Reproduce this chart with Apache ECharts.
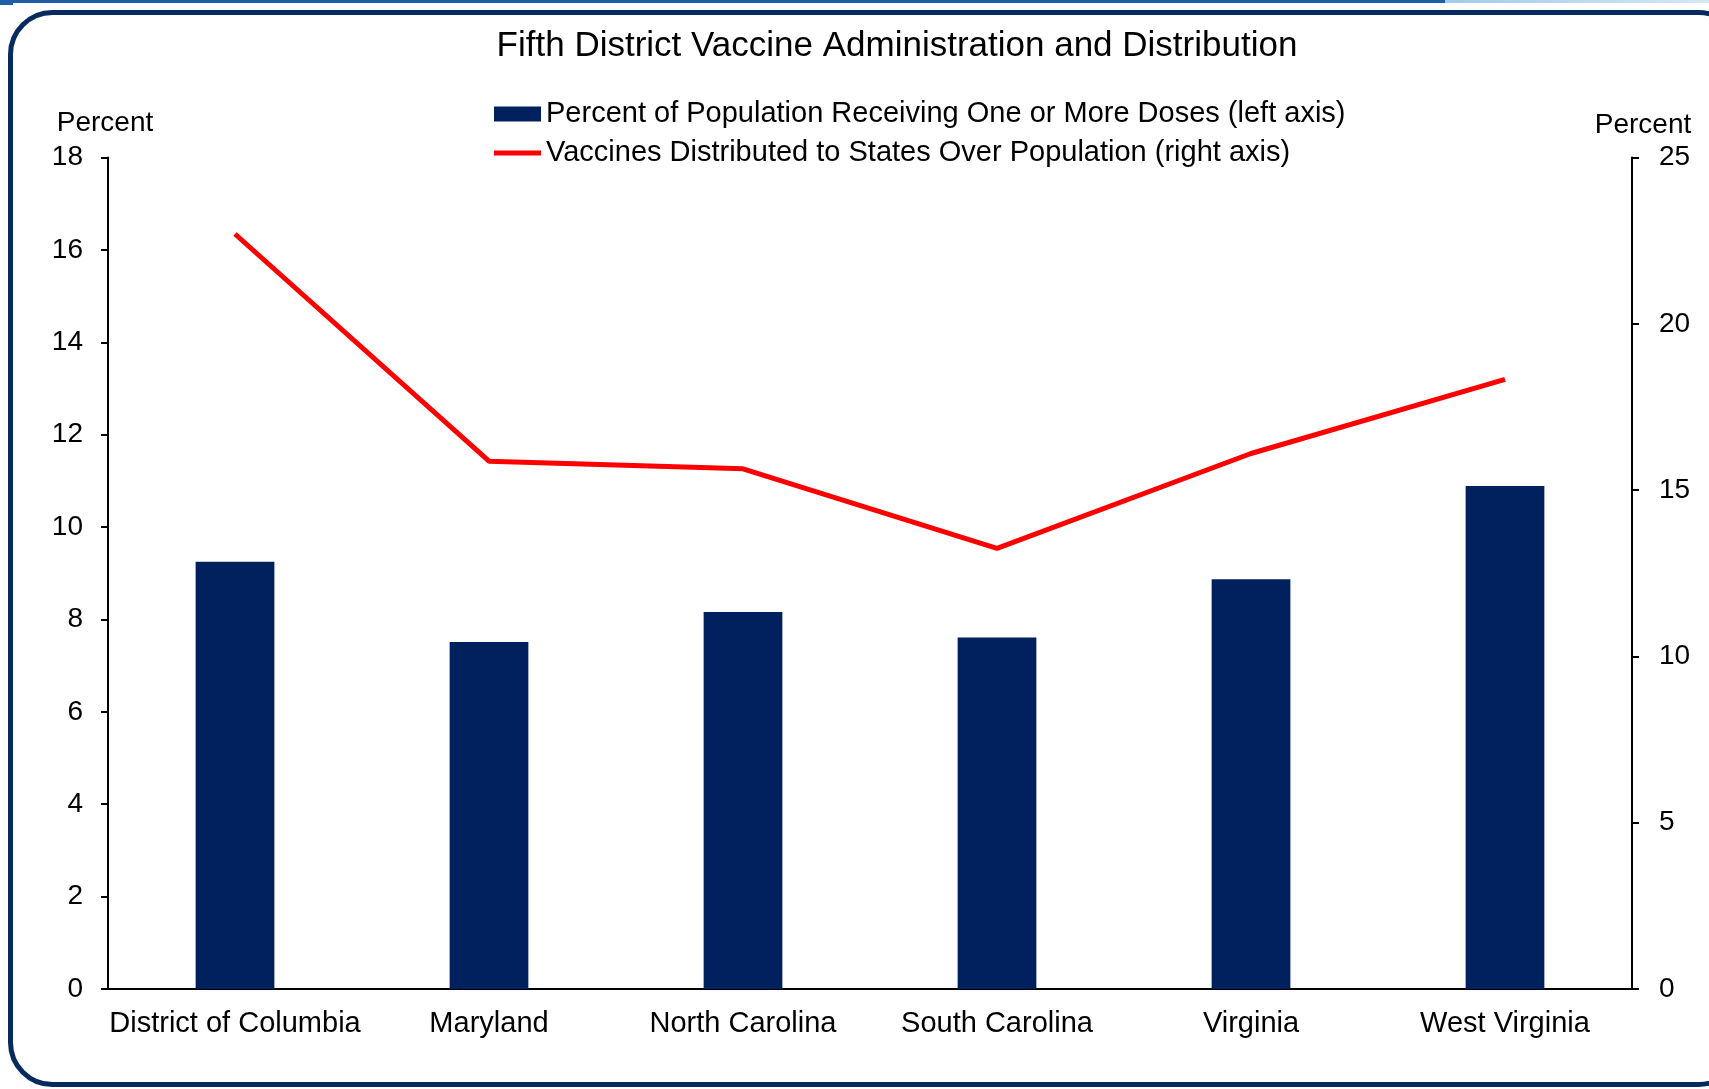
<!DOCTYPE html>
<html>
<head>
<meta charset="utf-8">
<script src="https://cdn.jsdelivr.net/npm/echarts@6/dist/echarts.min.js"></script>
<style>
html,body{margin:0;padding:0;background:#fff;}
#chart{width:1709px;height:1089px;}
</style>
</head>
<body>
<div id="chart"></div>
<script>
const categories = ['District of Columbia', 'Maryland', 'North Carolina', 'South Carolina', 'Virginia', 'West Virginia'];
const dosesPct = [9.25, 7.51, 8.16, 7.61, 8.87, 10.89];
const distributedPct = [22.7, 15.87, 15.64, 13.25, 16.1, 18.33];
const leftTicks = { min: 0, max: 18, interval: 2 };
const rightTicks = { min: 0, max: 25, interval: 5 };
const barName = 'Percent of Population Receiving One or More Doses (left axis)';
const lineName = 'Vaccines Distributed to States Over Population (right axis)';
const titleText = 'Fifth District Vaccine Administration and Distribution';

const FONT = '"Liberation Sans", Arial, sans-serif';
const chart = echarts.init(document.getElementById('chart'), null, { renderer: 'canvas' });
chart.setOption({
  animation: false,
  backgroundColor: '#ffffff',
  textStyle: { fontFamily: FONT, color: '#000' },
  title: {
    text: titleText, left: 897, top: 29, padding: 0, textAlign: 'center',
    textStyle: { fontFamily: FONT, fontSize: 35, fontWeight: 'normal', color: '#000' }
  },
  legend: [
    {
      data: [{ name: barName, icon: 'rect' }], left: 494, top: 99, padding: 0,
      itemWidth: 47, itemHeight: 15, itemGap: 0,
      textStyle: { fontFamily: FONT, fontSize: 29, color: '#000', lineHeight: 30 }
    },
    {
      data: [{ name: lineName, icon: 'rect' }], left: 494, top: 138, padding: 0,
      itemWidth: 47, itemHeight: 5, itemGap: 0,
      textStyle: { fontFamily: FONT, fontSize: 29, color: '#000', lineHeight: 30 }
    }
  ],
  grid: { left: 108, right: 77, top: 157.5, bottom: 100, containLabel: false },
  xAxis: {
    type: 'category', data: categories, boundaryGap: true,
    axisLine: { show: true, lineStyle: { color: '#000', width: 2 } },
    axisTick: { show: false },
    axisLabel: { color: '#000', fontFamily: FONT, fontSize: 29, margin: 20, interval: 0 }
  },
  yAxis: [
    {
      type: 'value', position: 'left', min: leftTicks.min, max: leftTicks.max, interval: leftTicks.interval,
      name: 'Percent', nameLocation: 'end', nameGap: 20,
      nameTextStyle: { color: '#000', fontFamily: FONT, fontSize: 28, align: 'center', padding: [0, 6, 0, 0] },
      axisLine: { show: true, lineStyle: { color: '#000', width: 2 } },
      axisTick: { show: true, inside: false, length: 7, lineStyle: { color: '#000', width: 2 } },
      axisLabel: { color: '#000', fontFamily: FONT, fontSize: 28, margin: 25 },
      splitLine: { show: false }
    },
    {
      type: 'value', position: 'right', min: rightTicks.min, max: rightTicks.max, interval: rightTicks.interval,
      name: 'Percent', nameLocation: 'end', nameGap: 18,
      nameTextStyle: { color: '#000', fontFamily: FONT, fontSize: 28, align: 'center', padding: [0, 0, 0, 22] },
      axisLine: { show: true, lineStyle: { color: '#000', width: 2 } },
      axisTick: { show: true, inside: false, length: 7, lineStyle: { color: '#000', width: 2 } },
      axisLabel: { color: '#000', fontFamily: FONT, fontSize: 28, margin: 27 },
      splitLine: { show: false }
    }
  ],
  series: [
    {
      name: barName, type: 'bar', yAxisIndex: 0, data: dosesPct, barWidth: '31%',
      itemStyle: { color: '#00205e' }
    },
    {
      name: lineName, type: 'line', yAxisIndex: 1, data: distributedPct,
      symbol: 'none', lineStyle: { color: '#ff0000', width: 5 }, itemStyle: { color: '#ff0000' }
    }
  ],
  graphic: [
    { type: 'rect', silent: true, shape: { x: 0, y: 0, width: 1445, height: 3 }, style: { fill: '#1f5fa9' } },
    { type: 'rect', silent: true, shape: { x: 0, y: 0, width: 13, height: 5 }, style: { fill: '#1f5fa9' } },
    { type: 'rect', silent: true, shape: { x: 1445, y: 0, width: 264, height: 3 },
      style: { fill: new echarts.graphic.LinearGradient(0, 0, 1, 0, [{ offset: 0, color: '#a3c9ec' }, { offset: 1, color: '#d6e7f6' }]) } },
    { type: 'rect', silent: true, shape: { x: 10.5, y: 12.5, width: 1730, height: 1072, r: 42 },
      style: { fill: 'none', stroke: '#062b5e', lineWidth: 5 } }
  ]
});
</script>
</body>
</html>
